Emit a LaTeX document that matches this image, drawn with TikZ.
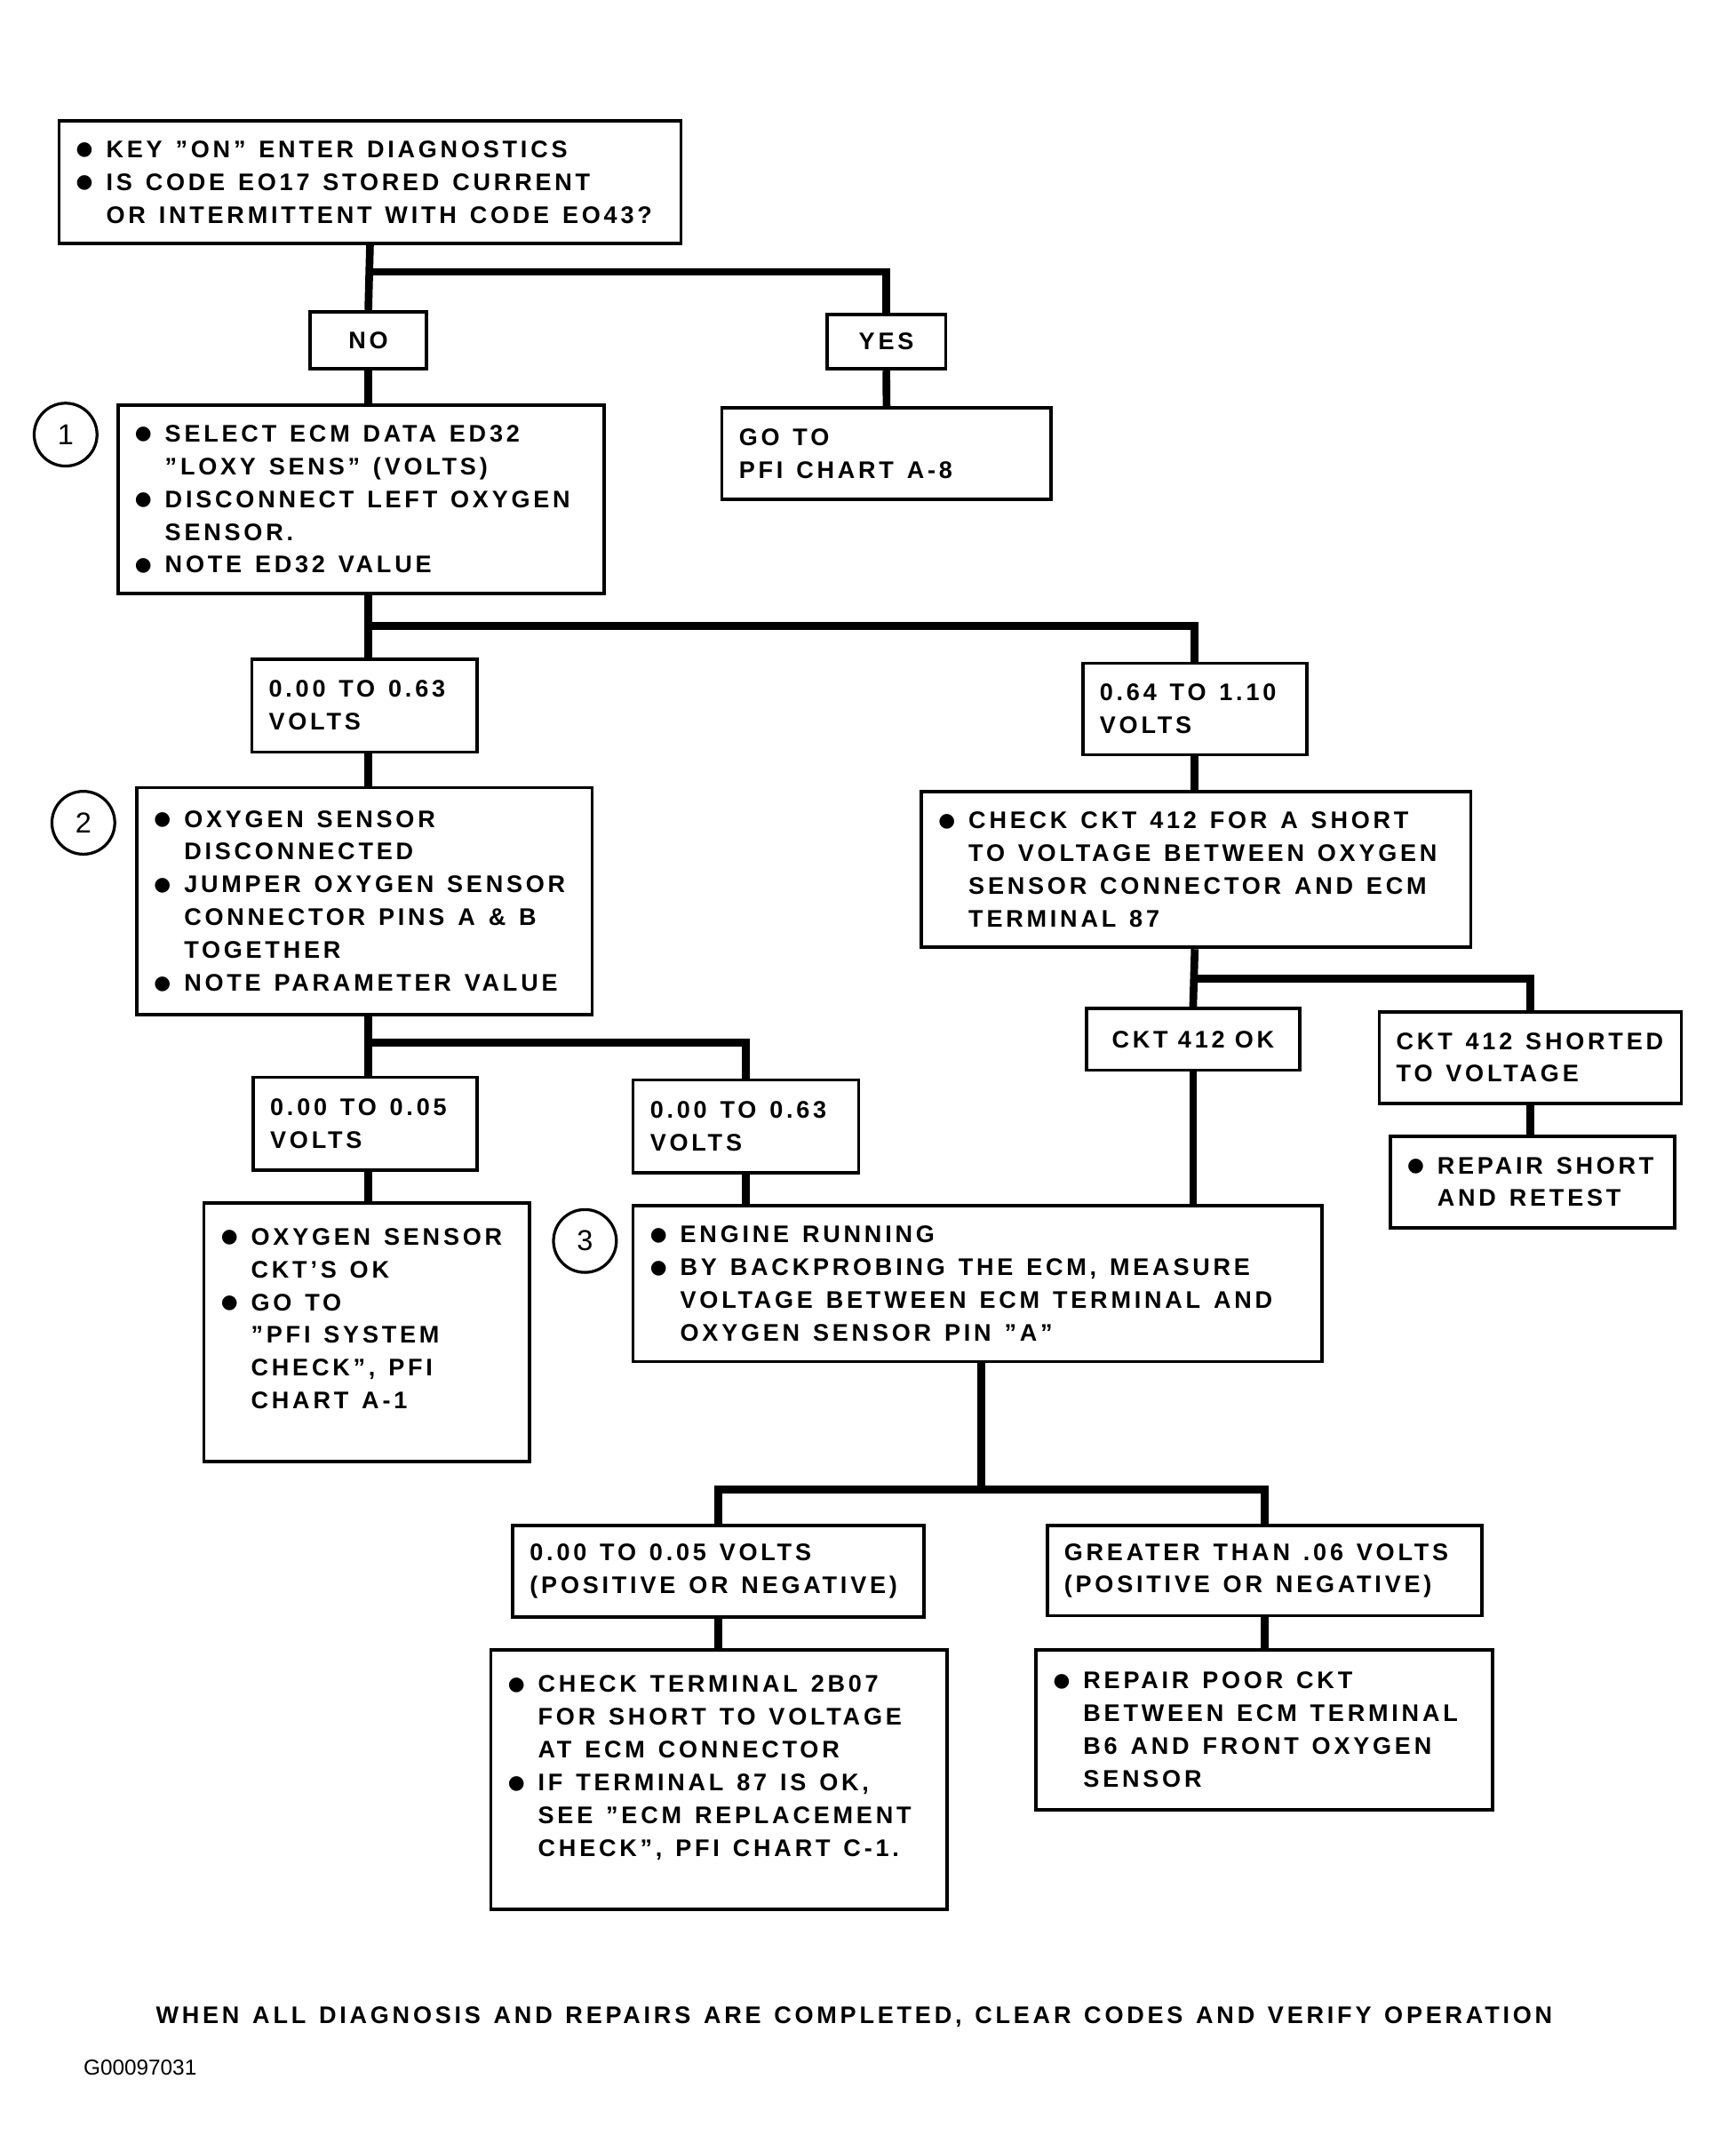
\documentclass[tikz,border=0pt]{standalone}
\usepackage{fontspec}
\setmainfont{Liberation Sans}[LetterSpace=14]
\newfontfamily\plainsans{Liberation Sans}
\newfontfamily\footfont{Liberation Sans}[LetterSpace=14,WordSpace=1.3]
\newfontfamily\dotfont{DejaVu Sans}
\newcommand{\bul}{\makebox[4.4mm][l]{\raisebox{0.3mm}{\dotfont\fontsize{8}{8}\selectfont ●}}}
\newcommand{\ind}{\hspace*{4.4mm}}
\begin{document}
\begin{tikzpicture}[x=0.2mm,y=-0.2mm,
    font=\fontsize{10}{13.66}\selectfont\bfseries,
    box/.style 2 args={draw,line width=1.4pt,anchor=north west,inner xsep=1mm,inner ysep=0pt,align=left,
        text width=#1*0.2mm-2mm,minimum height=#2*0.2mm,execute at begin node={\leftskip=1.5mm\spaceskip=0.55em}},
    tag/.style 2 args={draw,line width=1.4pt,inner sep=0pt,minimum width=#1*0.2mm,minimum height=#2*0.2mm},
    num/.style={draw,circle,line width=1.2pt,minimum size=9.2mm,inner sep=0pt,font=\plainsans\fontsize{12}{12}\selectfont},
    link/.style={line width=3.2pt}]
    \fill[white] (0,0) rectangle (1270,1568);
    \node[box={455}{90}] (top) at (42,87) {\bul KEY "ON" ENTER DIAGNOSTICS\\ \bul IS CODE EO17 STORED CURRENT\\ \ind OR INTERMITTENT WITH CODE EO43?};
    \node[tag={85}{42}] (no) at (269.5,249) {NO};
    \node[tag={87}{40}] (yes) at (648.5,250) {YES};
    \node[box={241}{67}] (goto) at (527,297) {GO TO\\ PFI CHART A-8};
    \node[box={356}{138}] (sel) at (85,295) {\bul SELECT ECM DATA ED32\\ \ind "LOXY SENS" (VOLTS)\\ \bul DISCONNECT LEFT OXYGEN\\ \ind SENSOR.\\ \bul NOTE ED32 VALUE};
    \node[num] (n1) at (48,318) {1};
    \node[box={165}{68}] (lowA) at (183,481) {0.00 TO 0.63\\ VOLTS};
    \node[box={164}{67}] (hiA) at (791,484) {0.64 TO 1.10\\ VOLTS};
    \node[box={402}{114}] (chk) at (673,578) {\bul CHECK CKT 412 FOR A SHORT\\ \ind TO VOLTAGE BETWEEN OXYGEN\\ \ind SENSOR CONNECTOR AND ECM\\ \ind TERMINAL 87};
    \node[tag={156}{45}] (ok) at (873,760.5) {CKT 412 OK};
    \node[box={221}{67}] (shrt) at (1008,739) {CKT 412 SHORTED\\ TO VOLTAGE};
    \node[box={208}{67}] (rep) at (1016,830) {\bul REPAIR SHORT\\ \ind AND RETEST};
    \node[box={333}{166}] (dis) at (99,575) {\bul OXYGEN SENSOR\\ \ind DISCONNECTED\\ \bul JUMPER OXYGEN SENSOR\\ \ind CONNECTOR PINS A \& B\\ \ind TOGETHER\\ \bul NOTE PARAMETER VALUE};
    \node[num] (n2) at (61,602) {2};
    \node[box={164}{68}] (lowB) at (184,787) {0.00 TO 0.05\\ VOLTS};
    \node[box={165}{68}] (midB) at (462,789) {0.00 TO 0.63\\ VOLTS};
    \node[box={238}{189}] (cok) at (148,879) {\bul OXYGEN SENSOR\\ \ind CKT'S OK\\ \bul GO TO\\ \ind "PFI SYSTEM\\ \ind CHECK", PFI\\ \ind CHART A-1\rule[-4mm]{0pt}{4mm}};
    \node[box={504}{114}] (eng) at (462,881) {\bul ENGINE RUNNING\\ \bul BY BACKPROBING THE ECM, MEASURE\\ \ind VOLTAGE BETWEEN ECM TERMINAL AND\\ \ind OXYGEN SENSOR PIN "A"};
    \node[num] (n3) at (428,908) {3};
    \node[box={301}{67}] (lowC) at (374,1115) {0.00 TO 0.05 VOLTS\\ (POSITIVE OR NEGATIVE)};
    \node[box={318}{66}] (hiC) at (765,1115) {GREATER THAN .06 VOLTS\\ (POSITIVE OR NEGATIVE)};
    \node[box={334}{190}] (term) at (358,1206) {\bul CHECK TERMINAL 2B07\\ \ind FOR SHORT TO VOLTAGE\\ \ind AT ECM CONNECTOR\\ \bul IF TERMINAL 87 IS OK,\\ \ind SEE "ECM REPLACEMENT\\ \ind CHECK", PFI CHART C-1.\rule[-4mm]{0pt}{4mm}};
    \node[box={334}{117}] (poor) at (757,1206) {\bul REPAIR POOR CKT\\ \ind BETWEEN ECM TERMINAL\\ \ind B6 AND FRONT OXYGEN\\ \ind SENSOR};
    \node[font=\footfont\fontsize{10}{13.66}\selectfont\bfseries] (foot) at (625,1476) {WHEN ALL DIAGNOSIS AND REPAIRS ARE COMPLETED, CLEAR CODES AND VERIFY OPERATION};
    \node[anchor=west,font=\plainsans\fontsize{9}{9}\selectfont] (gid) at (55,1513) {G00097031};

    \coordinate (s1) at (269.5,199);
    \coordinate (s2) at (269.5,458);
    \coordinate (s3) at (873,716);
    \coordinate (s4) at (269.5,763);
    \coordinate (s5) at (718,1090);
    \draw[link] (top.south) -- (no.north);
    \draw[link] (s1) -| (yes.north);
    \draw[link] (yes.south) -- (goto.north);
    \draw[link] (no.south) -- (no.south |- sel.north);
    \draw[link] (no.south |- sel.south) -- (no.south |- lowA.north);
    \draw[link] (s2) -| (hiA.north);
    \draw[link] (hiA.south) -- (hiA.south |- chk.north);
    \draw[link] (hiA.south |- chk.south) -- (ok.north);
    \draw[link] (s3) -| (shrt.north);
    \draw[link] (shrt.south) -- (shrt.south |- rep.north);
    \draw[link] (ok.south) -- (ok.south |- eng.north);
    \draw[link] (no.south |- lowA.south) -- (no.south |- dis.north);
    \draw[link] (no.south |- dis.south) -- (no.south |- lowB.north);
    \draw[link] (s4) -| (midB.north);
    \draw[link] (no.south |- lowB.south) -- (no.south |- cok.north);
    \draw[link] (midB.south) -- (midB.south |- eng.north);
    \draw[link] (s5 |- eng.south) -- (s5);
    \draw[link] (lowC.north) |- (s5) -| (hiC.north);
    \draw[link] (lowC.south) -- (lowC.south |- term.north);
    \draw[link] (hiC.south) -- (hiC.south |- poor.north);
\end{tikzpicture}
\end{document}
